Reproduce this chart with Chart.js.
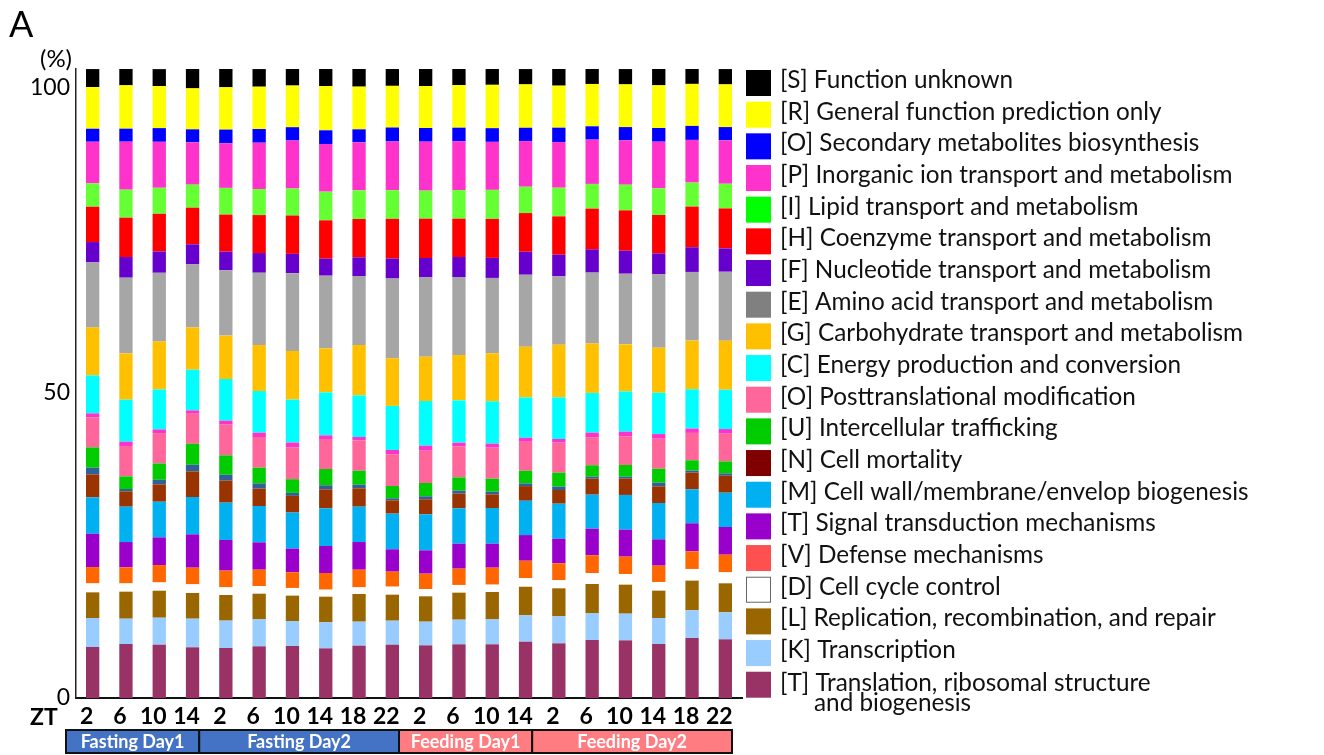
<!DOCTYPE html>
<html>
<head>
<meta charset="utf-8">
<script src="https://cdn.jsdelivr.net/npm/chart.js@4.4.1/dist/chart.umd.min.js"></script>
<style>
  html, body { margin: 0; padding: 0; background: #ffffff; }
  #wrap { width: 1324px; height: 755px; position: relative; }
</style>
</head>
<body>
<div id="wrap"><canvas id="chart" width="1324" height="755"></canvas></div>
<script>
// Sampling time points (ZT) and the feeding phases they belong to
const ztLabels = ['2', '6', '10', '14', '2', '6', '10', '14', '18', '22',
                  '2', '6', '10', '14', '2', '6', '10', '14', '18', '22'];
const phaseNames = ['Fasting Day1', 'Fasting Day2', 'Feeding Day1', 'Feeding Day2'];
const phaseLengths = [4, 6, 4, 6];
const yTicks = [0, 50, 100];

// COG category abundance (%) per sample, bottom of the stack first
const translation   = [8.35, 8.84, 8.73, 8.30, 8.19, 8.46, 8.52, 8.13, 8.57, 8.73, 8.62, 8.79, 8.79, 9.22, 8.95, 9.50, 9.44, 8.84, 9.83, 9.61];
const transcription = [4.75, 4.15, 4.42, 4.69, 4.48, 4.42, 4.09, 4.26, 3.93, 3.93, 3.88, 4.04, 4.09, 4.31, 4.42, 4.42, 4.37, 4.26, 4.53, 4.42];
const replication   = [4.20, 4.42, 4.42, 4.20, 4.20, 4.20, 4.15, 4.20, 4.53, 4.26, 4.15, 4.42, 4.48, 4.69, 4.59, 4.75, 4.75, 4.48, 4.86, 4.75];
const cellCycle     = [1.47, 1.36, 1.36, 1.42, 1.26, 1.26, 1.26, 1.15, 1.09, 1.31, 1.20, 1.26, 1.20, 1.42, 1.36, 1.80, 1.75, 1.42, 1.91, 1.80];
const defense       = [2.67, 2.62, 2.84, 2.73, 2.73, 2.67, 2.57, 2.73, 2.89, 2.46, 2.51, 2.67, 2.78, 2.84, 2.73, 2.89, 2.84, 2.67, 2.89, 2.89];
const signalTrans   = [5.46, 4.15, 4.53, 5.46, 5.02, 4.48, 3.88, 4.42, 4.53, 3.66, 3.82, 4.09, 3.93, 4.20, 4.04, 4.37, 4.42, 4.31, 4.59, 4.53];
const cellWall      = [5.95, 5.79, 5.84, 6.11, 6.11, 5.95, 5.90, 6.17, 5.79, 5.84, 5.90, 5.79, 5.84, 5.62, 5.73, 5.57, 5.68, 5.95, 5.57, 5.62];
const cellMortality = [3.77, 2.51, 2.84, 4.20, 3.60, 2.84, 2.73, 3.11, 3.00, 2.18, 2.46, 2.40, 2.24, 2.40, 2.24, 2.62, 2.67, 2.73, 2.73, 2.78];
const chromatin     = [1.09, 0.38, 0.76, 1.09, 0.98, 0.87, 0.49, 0.66, 0.60, 0.33, 0.49, 0.49, 0.44, 0.44, 0.55, 0.33, 0.33, 0.60, 0.33, 0.38];
const trafficking   = [3.33, 2.07, 2.67, 3.44, 3.17, 2.57, 2.24, 2.67, 2.29, 2.02, 2.18, 2.18, 2.13, 2.07, 2.29, 1.86, 1.91, 2.29, 1.69, 1.97];
const posttrans     = [4.91, 4.97, 4.97, 4.91, 5.02, 5.02, 5.24, 4.91, 4.97, 5.19, 5.29, 5.08, 5.08, 4.75, 4.91, 4.59, 4.69, 4.91, 4.48, 4.53];
const rnaProcessing = [0.66, 0.71, 0.60, 0.55, 0.66, 0.71, 0.76, 0.60, 0.55, 0.71, 0.82, 0.60, 0.66, 0.66, 0.60, 0.76, 0.76, 0.76, 0.71, 0.76];
const energy        = [6.22, 6.88, 6.55, 6.66, 6.82, 6.82, 7.04, 7.04, 6.82, 7.21, 7.31, 6.93, 6.93, 6.60, 6.82, 6.50, 6.60, 6.77, 6.44, 6.44];
const carbohydrate  = [7.86, 7.59, 7.86, 6.93, 7.10, 7.53, 7.97, 7.21, 8.24, 7.81, 7.26, 7.42, 7.86, 8.30, 8.62, 8.13, 7.70, 7.37, 7.97, 8.02];
const aminoAcid     = [10.64, 12.39, 11.24, 10.32, 10.70, 11.84, 12.72, 11.90, 11.30, 13.05, 12.99, 12.77, 12.34, 11.79, 11.19, 11.57, 11.57, 12.01, 11.24, 11.30];
const nucleotide    = [3.33, 3.38, 3.49, 3.28, 3.06, 3.22, 3.17, 2.78, 3.06, 3.28, 3.17, 3.28, 3.28, 3.77, 3.55, 3.82, 3.77, 3.44, 4.04, 3.82];
const coenzyme      = [5.79, 6.44, 6.17, 6.00, 6.06, 6.22, 6.28, 6.28, 6.28, 6.50, 6.44, 6.28, 6.39, 6.33, 6.28, 6.66, 6.60, 6.28, 6.66, 6.55];
const lipid         = [3.82, 4.59, 4.26, 3.77, 4.37, 4.26, 4.42, 4.69, 4.69, 4.69, 4.59, 4.69, 4.75, 4.31, 4.69, 4.04, 4.20, 4.37, 3.93, 4.04];
const inorganicIon  = [6.82, 7.86, 7.53, 6.93, 7.31, 7.59, 7.86, 7.81, 7.86, 7.97, 8.02, 7.97, 7.86, 7.48, 7.48, 7.26, 7.26, 7.64, 6.99, 7.10];
const secondary     = [2.13, 2.13, 2.24, 2.13, 2.24, 2.24, 2.18, 2.24, 2.13, 2.29, 2.24, 2.24, 2.24, 2.18, 2.35, 2.18, 2.18, 2.24, 2.29, 2.18];
const generalPred   = [6.82, 7.10, 6.88, 6.71, 6.93, 6.93, 6.82, 7.26, 6.99, 6.82, 6.88, 6.99, 7.10, 7.10, 6.88, 6.93, 6.99, 6.99, 6.88, 6.99];
const unknownFn     = [2.95, 2.67, 2.78, 3.17, 3.00, 2.89, 2.73, 2.78, 2.89, 2.78, 2.78, 2.62, 2.62, 2.51, 2.73, 2.46, 2.51, 2.67, 2.46, 2.51];

// Stack order (bottom -> top): [data, bar colour, key text (null = not in key), key swatch colour]
const series = [
  [translation,   '#993366', ['[T] Translation, ribosomal structure', 'and biogenesis'], '#993366'],
  [transcription, '#99CCFF', '[K] Transcription', '#99CCFF'],
  [replication,   '#996600', '[L] Replication, recombination, and repair', '#996600'],
  [cellCycle,     '#FFFFFF', '[D] Cell cycle control', '#FFFFFF'],
  [defense,       '#FF6600', '[V] Defense mechanisms', '#FF5050'],
  [signalTrans,   '#9900CC', '[T] Signal transduction mechanisms', '#9900CC'],
  [cellWall,      '#00B0F0', '[M] Cell wall/membrane/envelop biogenesis', '#00B0F0'],
  [cellMortality, '#993300', '[N] Cell mortality', '#800000'],
  [chromatin,     '#2F6096', null, null],
  [trafficking,   '#00CC00', '[U] Intercellular trafficking', '#00CC00'],
  [posttrans,     '#FF6699', '[O] Posttranslational modification', '#FF6699'],
  [rnaProcessing, '#FF33CC', null, null],
  [energy,        '#00FFFF', '[C] Energy production and conversion', '#00FFFF'],
  [carbohydrate,  '#FFC000', '[G] Carbohydrate transport and metabolism', '#FFC000'],
  [aminoAcid,     '#A6A6A6', '[E] Amino acid transport and metabolism', '#808080'],
  [nucleotide,    '#6600CC', '[F] Nucleotide transport and metabolism', '#6600CC'],
  [coenzyme,      '#FF0000', '[H] Coenzyme transport and metabolism', '#FF0000'],
  [lipid,         '#66FF33', '[I] Lipid transport and metabolism', '#00FF00'],
  [inorganicIon,  '#FF33CC', '[P] Inorganic ion transport and metabolism', '#FF33CC'],
  [secondary,     '#0000FF', '[O] Secondary metabolites biosynthesis', '#0000FF'],
  [generalPred,   '#FFFF00', '[R] General function prediction only', '#FFFF00'],
  [unknownFn,     '#000000', '[S] Function unknown', '#000000']
];

const FONT = 'Lato, "Open Sans", sans-serif';

const datasets = series.map(([data, color, key, swatch]) => ({
  label: Array.isArray(key) ? key.join(' ') : (key || ''),
  keyText: key,
  keyColor: swatch,
  data: data,
  backgroundColor: color,
  borderWidth: 0,
  barPercentage: 0.4,
  categoryPercentage: 1.0
}));

// Panel letter, axis unit, ZT caption, phase bands and the category key
const decorations = {
  id: 'decorations',
  afterDraw(chart) {
    const ctx = chart.ctx;
    const x = chart.scales.x;
    ctx.save();
    ctx.fillStyle = '#000';
    ctx.textBaseline = 'middle';

    ctx.font = '36px ' + FONT;
    ctx.textAlign = 'left';
    ctx.fillText('A', 9, 25);

    ctx.font = '24px ' + FONT;
    ctx.textAlign = 'center';
    ctx.fillText('(%)', 56, 59);

    ctx.font = 'bold 23px ' + FONT;
    ctx.textAlign = 'left';
    ctx.fillText('ZT', 30, 718);

    // phase bands under the time axis
    const bandTop = 730, bandH = 23;
    let start = 0;
    phaseNames.forEach((name, i) => {
      const n = phaseLengths[i];
      const left = x.getPixelForValue(start - 0.5) - 10;
      const right = x.getPixelForValue(start + n - 0.5) - 10;
      const fasting = name.indexOf('Fasting') === 0;
      ctx.fillStyle = fasting ? '#4472C4' : '#FF7C80';
      ctx.fillRect(left, bandTop, right - left, bandH);
      ctx.lineWidth = 2;
      ctx.strokeStyle = '#111';
      ctx.strokeRect(left, bandTop, right - left, bandH);
      ctx.fillStyle = '#fff';
      ctx.font = 'bold 18px ' + FONT;
      ctx.textAlign = 'center';
      ctx.fillText(name, (left + right) / 2, bandTop + bandH / 2 + 1);
      start += n;
    });

    // category key, top entry = top of the stack
    const keyed = chart.data.datasets.filter(d => d.keyText).slice().reverse();
    const boxX = 746, firstTop = 70, pitch = 31.67;
    ctx.textAlign = 'left';
    keyed.forEach((d, k) => {
      const top = firstTop + k * pitch;
      ctx.fillStyle = d.keyColor;
      ctx.fillRect(boxX, top, 25, 26);
      if (d.keyColor.toUpperCase() === '#FFFFFF') {
        ctx.lineWidth = 1;
        ctx.strokeStyle = '#666';
        ctx.strokeRect(boxX + 0.5, top + 0.5, 24, 25);
      }
      ctx.fillStyle = '#111';
      ctx.font = '24.3px ' + FONT;
      if (Array.isArray(d.keyText)) {
        ctx.fillText(d.keyText[0], 780, top + 11);
        ctx.fillText(d.keyText[1], 814, top + 31);
      } else {
        ctx.fillText(d.keyText, 780, top + 10);
      }
    });
    ctx.restore();
  }
};

new Chart(document.getElementById('chart'), {
  type: 'bar',
  data: { labels: ztLabels, datasets: datasets },
  options: {
    responsive: false,
    animation: false,
    layout: { padding: { top: 69, right: 582, bottom: 0, left: 0 } },
    plugins: { legend: { display: false }, tooltip: { enabled: false } },
    scales: {
      x: {
        stacked: true,
        grid: { display: false, drawTicks: false },
        border: { display: true, color: '#111', width: 2 },
        ticks: { color: '#000', font: { family: FONT, size: 23, weight: 'bold' }, padding: 5, labelOffset: -6, maxRotation: 0, autoSkip: false },
        afterFit(s) { s.height = 57; }
      },
      y: {
        stacked: true,
        min: 0,
        max: 103,
        grid: { display: false, drawTicks: false },
        border: { display: true, color: '#222', width: 1.5 },
        ticks: { color: '#000', font: { family: FONT, size: 23 }, padding: 6 },
        afterBuildTicks(s) { s.ticks = yTicks.map(v => ({ value: v })); },
        afterFit(s) { s.width = 76; }
      }
    }
  },
  plugins: [decorations]
});
</script>
</body>
</html>
